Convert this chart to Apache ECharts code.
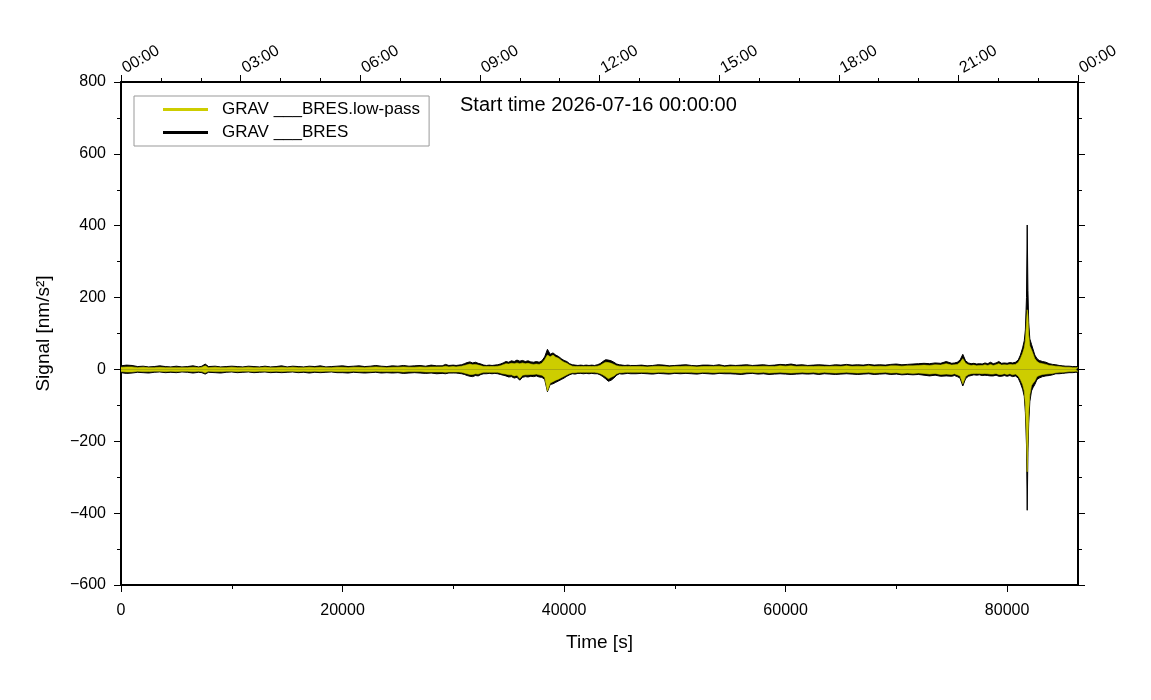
<!DOCTYPE html>
<html>
<head>
<meta charset="utf-8">
<title>GRAV BRES</title>
<script src="https://cdn.jsdelivr.net/npm/echarts@6/dist/echarts.min.js"></script>
<style>
  html, body { margin: 0; padding: 0; background: #fff; }
  #chart { width: 1151px; height: 700px; }
</style>
</head>
<body>
<div id="chart"></div>
<script>
// sample times in seconds since start, with the envelope of each trace
const times = [
  0, 500, 1000, 1500, 2000, 2500, 3000, 3500, 4000, 4500,
  5000, 5500, 6000, 6500, 7000, 7300, 7600, 7900, 8500, 9000,
  9500, 10000, 10500, 11000, 11500, 12000, 12500, 13000, 13500, 14000,
  14500, 15000, 15500, 16000, 16500, 17000, 17500, 18000, 18500, 19000,
  19500, 20000, 20500, 21000, 21500, 22000, 22500, 23000, 23500, 24000,
  24500, 25000, 25500, 26000, 26500, 27000, 27500, 28000, 28500, 29000,
  29300, 29600, 30000,
  30250, 30500, 30750, 31000, 31250, 31500, 31750, 32000,
  32250, 32500, 32750, 33000, 33250, 33500, 33750, 34000,
  34250, 34500, 34750, 35000, 35250, 35500, 35750, 36000,
  36250, 36500, 36750, 37000, 37250, 37500, 37750, 38000,
  38250, 38500, 38750, 39000, 39250, 39500, 39750, 40000,
  40250, 40500, 40750, 41000, 41250, 41500, 41750, 42000,
  42250, 42500, 42750, 43000, 43250, 43500, 43750, 44000,
  44250, 44500, 44750, 45000, 45250, 45500, 45750, 46000,
  46500, 47000, 47500, 48000, 48500, 49000, 49500, 50000, 50500, 51000,
  51500, 52000, 52500, 53000, 53500, 54000, 54500, 55000, 55500, 56000,
  56500, 57000, 57500, 58000, 58500, 59000, 59500, 60000, 60500, 61000,
  61500, 62000, 62500, 63000, 63500, 64000, 64500, 65000, 65500, 66000,
  66500, 67000, 67500, 68000, 68500, 69000, 69500, 70000, 70500, 71000,
  71500, 72000, 72500, 73000, 73500, 74000, 74500, 75000,
  75250, 75500, 75750, 76000, 76250, 76500, 76750, 77000,
  77250, 77500, 77750, 78000, 78250, 78500, 78750, 79000,
  79250, 79500, 79750, 80000, 80250, 80500, 80750, 81000,
  81200, 81400, 81550, 81650, 81750, 81815, 81880, 81950,
  82050, 82200, 82350, 82500, 82700, 82900, 83200, 83500,
  83800, 84100, 84400, 84700, 85000, 85300, 85600, 85900,
  86200, 86400
];

// raw trace, upper and lower envelope (nm/s^2)
const rawTop = [
  10, 12, 11, 8, 9, 7, 8, 10, 8, 7,
  9, 7, 8, 10, 7, 9, 15, 8, 9, 7,
  8, 9, 8, 7, 9, 8, 7, 9, 7, 8,
  10, 7, 9, 8, 7, 9, 8, 10, 7, 8,
  9, 10, 8, 9, 10, 8, 9, 11, 9, 8,
  10, 9, 11, 9, 10, 11, 9, 12, 10, 10,
  14, 11, 12,
  11, 12, 13, 16, 19, 21, 18, 20,
  17, 15, 12, 11, 12, 11, 12, 13,
  15, 18, 22, 20, 24, 22, 26, 23,
  25, 22, 24, 21, 20, 22, 20, 24,
  35, 56, 42, 46, 40, 36, 30, 25,
  22, 16, 13, 12, 11, 12, 11, 12,
  11, 12, 11, 13, 16, 22, 27, 26,
  24, 20, 15, 13, 12, 11, 12, 11,
  11, 12, 10, 11, 13, 12, 10, 11, 12, 13,
  11, 10, 12, 12, 11, 13, 10, 12, 11, 12,
  13, 11, 12, 13, 11, 12, 14, 13, 15, 12,
  13, 11, 12, 13, 12, 11, 13, 12, 14, 12,
  13, 12, 14, 12, 13, 12, 14, 15, 13, 14,
  15, 16, 17, 16, 18, 17, 22, 17,
  18, 20, 26, 42, 24, 18, 16, 17,
  15, 16, 15, 18, 16, 20, 16, 18,
  22, 17, 18, 17, 19, 18, 20, 26,
  40, 60, 80, 110, 200, 402, 220, 130,
  85, 70, 65, 40, 30, 25, 22, 20,
  16, 14, 13, 11, 10, 9, 9, 8,
  8, 8
];
const rawBottom = [
  -9, -11, -10, -8, -9, -10, -8, -7, -9, -8,
  -9, -7, -8, -10, -8, -9, -13, -8, -9, -10,
  -8, -7, -9, -8, -7, -9, -8, -7, -9, -8,
  -9, -8, -7, -9, -8, -10, -8, -9, -8, -7,
  -9, -9, -10, -8, -9, -10, -9, -8, -10, -9,
  -10, -9, -11, -10, -9, -10, -11, -10, -12, -11,
  -12, -10, -10,
  -10, -11, -12, -14, -17, -19, -20, -17,
  -18, -14, -12, -12, -11, -12, -11, -12,
  -14, -16, -18, -21, -20, -24, -22, -30,
  -22, -20, -21, -19, -20, -18, -21, -22,
  -28, -62, -42, -40, -36, -32, -28, -24,
  -19, -15, -12, -13, -11, -11, -12, -11,
  -12, -11, -12, -12, -15, -20, -26, -33,
  -30, -24, -16, -12, -13, -12, -11, -12,
  -12, -11, -12, -13, -11, -12, -13, -11, -12, -11,
  -12, -13, -11, -12, -13, -11, -12, -12, -13, -14,
  -12, -11, -13, -12, -14, -13, -12, -13, -14, -13,
  -12, -13, -12, -14, -12, -13, -14, -13, -12, -13,
  -14, -13, -12, -14, -13, -12, -14, -13, -15, -14,
  -15, -14, -16, -18, -16, -19, -18, -19,
  -17, -20, -24, -46, -26, -19, -17, -15,
  -16, -15, -17, -16, -17, -18, -18, -16,
  -19, -19, -17, -19, -17, -20, -18, -24,
  -38, -55, -75, -120, -210, -392, -230, -150,
  -90, -60, -50, -42, -28, -24, -20, -18,
  -17, -15, -12, -12, -11, -10, -9, -9,
  -8, -8
];

// low-pass trace, upper and lower envelope (nm/s^2)
const lpTop = [
  6, 7, 7, 5, 6, 5, 5, 6, 5, 5,
  5, 5, 5, 6, 5, 6, 10, 5, 6, 5,
  5, 6, 5, 5, 6, 5, 5, 6, 5, 5,
  6, 5, 6, 5, 5, 6, 5, 6, 5, 5,
  6, 6, 5, 6, 6, 5, 6, 7, 6, 5,
  6, 6, 7, 6, 6, 7, 6, 7, 7, 7,
  9, 7, 8,
  7, 8, 9, 11, 13, 15, 13, 14,
  12, 10, 8, 8, 8, 8, 8, 9,
  10, 13, 16, 15, 17, 16, 18, 16,
  18, 16, 17, 15, 14, 15, 14, 17,
  27, 40, 35, 40, 34, 31, 25, 20,
  17, 12, 9, 8, 8, 8, 8, 8,
  8, 8, 8, 9, 11, 16, 20, 19,
  17, 14, 10, 9, 8, 8, 8, 8,
  8, 8, 7, 8, 9, 8, 7, 8, 8, 9,
  8, 7, 8, 8, 8, 9, 7, 8, 8, 8,
  9, 8, 8, 9, 8, 8, 10, 9, 10, 8,
  9, 8, 8, 9, 8, 8, 9, 8, 10, 8,
  9, 8, 10, 8, 9, 8, 10, 10, 9, 10,
  10, 11, 12, 11, 13, 12, 16, 12,
  13, 14, 19, 30, 17, 13, 11, 12,
  10, 11, 11, 13, 11, 14, 11, 13,
  16, 12, 13, 12, 14, 13, 14, 19,
  30, 45, 60, 80, 130, 166, 150, 95,
  65, 55, 50, 30, 22, 18, 16, 14,
  11, 10, 9, 8, 7, 6, 6, 5,
  5, 5
];
const lpBottom = [
  -6, -7, -7, -5, -6, -6, -5, -5, -6, -5,
  -6, -5, -5, -6, -5, -6, -9, -5, -6, -6,
  -5, -5, -6, -5, -5, -6, -5, -5, -6, -5,
  -6, -5, -5, -6, -5, -6, -5, -6, -5, -5,
  -6, -6, -6, -5, -6, -6, -6, -5, -6, -6,
  -6, -6, -7, -6, -6, -6, -7, -7, -7, -7,
  -8, -7, -7,
  -7, -7, -8, -10, -12, -14, -14, -12,
  -13, -10, -8, -8, -8, -8, -8, -8,
  -10, -12, -13, -15, -15, -18, -16, -25,
  -16, -15, -15, -14, -14, -13, -15, -16,
  -22, -60, -38, -34, -30, -27, -23, -19,
  -15, -11, -9, -9, -8, -8, -8, -8,
  -8, -8, -8, -9, -11, -15, -20, -26,
  -22, -18, -12, -9, -9, -8, -8, -8,
  -8, -8, -8, -9, -8, -8, -9, -8, -8, -8,
  -8, -9, -8, -8, -9, -8, -8, -8, -9, -10,
  -8, -8, -9, -8, -10, -9, -8, -9, -10, -9,
  -8, -9, -8, -10, -8, -9, -10, -9, -8, -9,
  -10, -9, -8, -10, -9, -8, -10, -9, -11, -10,
  -11, -10, -11, -13, -11, -14, -13, -14,
  -12, -15, -18, -40, -20, -14, -12, -11,
  -11, -11, -12, -11, -12, -13, -13, -11,
  -14, -14, -12, -14, -12, -15, -13, -18,
  -28, -42, -60, -100, -180, -285, -200, -120,
  -70, -45, -38, -32, -20, -17, -14, -13,
  -12, -11, -9, -8, -8, -7, -6, -6,
  -5, -5
];

const bottomMajor = [0, 20000, 40000, 60000, 80000];
const bottomMinor = [10000, 30000, 50000, 70000];
const topLabels = ['00:00', '03:00', '06:00', '09:00', '12:00', '15:00', '18:00', '21:00', '00:00'];

const RAW_NAME = 'GRAV ___BRES';
const LP_NAME = 'GRAV ___BRES.low-pass';
const FONT = '"Liberation Sans", Arial, Helvetica, sans-serif';

function pairs(ys) {
    return times.map(function (t, i) { return [t, ys[i]]; });
}

// each trace is drawn as two areas filled towards zero: upper and lower envelope
function band(name, color, top, bottom, width, z) {
    return [top, bottom].map(function (ys) {
        return {
            name: name,
            type: 'line',
            xAxisIndex: 0,
            yAxisIndex: 0,
            data: pairs(ys),
            symbol: 'none',
            showSymbol: false,
            z: z,
            itemStyle: { color: color },
            lineStyle: { color: color, width: width },
            areaStyle: { color: color, opacity: 1 },
            emphasis: { disabled: true }
        };
    });
}

const black = '#000';
const frameLine = { show: true, onZero: false, lineStyle: { color: black, width: 2 } };
const majorTick = { show: true, inside: false, length: 7, lineStyle: { color: black, width: 1 } };
const minorTick = { show: true, length: 4, lineStyle: { color: black, width: 1 } };

var chart = echarts.init(document.getElementById('chart'));
var option = {
    animation: false,
    backgroundColor: '#fff',
    textStyle: { fontFamily: FONT, color: black },
    title: {
        text: 'Start time 2026-07-16 00:00:00',
        left: 460,
        top: 95,
        padding: 0,
        textStyle: { fontFamily: FONT, fontSize: 20, fontWeight: 'normal', color: black }
    },
    legend: {
        data: [LP_NAME, RAW_NAME],
        orient: 'vertical',
        left: 134,
        top: 96,
        padding: [5, 9, 5, 29],
        itemGap: 6,
        itemWidth: 45,
        itemHeight: 3,
        icon: 'rect',
        borderColor: '#999',
        borderWidth: 1,
        backgroundColor: '#fff',
        selectedMode: false,
        textStyle: { fontFamily: FONT, fontSize: 17, lineHeight: 17, color: black, padding: [0, 0, 0, 9] }
    },
    grid: [
        { left: 121, right: 73, top: 82, bottom: 115, outerBoundsMode: 'none' },
        { left: 121, right: 73, top: 82, bottom: 115, outerBoundsMode: 'none' }
    ],
    xAxis: [
        {
            type: 'value', gridIndex: 0, position: 'bottom', min: 0, max: 86400,
            axisLine: frameLine,
            axisTick: Object.assign({ customValues: bottomMajor }, majorTick),
            axisLabel: {
                customValues: bottomMajor, fontSize: 16, margin: 18, color: black, fontFamily: FONT,
                formatter: function (v) { return String(v); }
            },
            splitLine: { show: false },
            name: 'Time [s]', nameLocation: 'middle', nameGap: 48,
            nameTextStyle: { fontSize: 19, color: black, fontFamily: FONT }
        },
        {
            type: 'value', gridIndex: 0, position: 'top', min: 0, max: 86400, interval: 10800,
            axisLine: frameLine,
            axisTick: majorTick,
            minorTick: Object.assign({ splitNumber: 3 }, minorTick),
            axisLabel: {
                rotate: -30, fontSize: 16, margin: 11, padding: [0, 0, 0, 3], color: black, fontFamily: FONT,
                formatter: function (v, i) { return topLabels[i]; }
            },
            splitLine: { show: false }, minorSplitLine: { show: false }
        },
        {
            type: 'value', gridIndex: 1, position: 'bottom', min: 0, max: 86400,
            axisLine: { show: false, onZero: false },
            axisTick: Object.assign({ customValues: bottomMinor }, minorTick),
            axisLabel: { show: false },
            splitLine: { show: false }
        }
    ],
    yAxis: [
        {
            type: 'value', gridIndex: 0, position: 'left', min: -600, max: 800, interval: 200,
            axisLine: frameLine,
            axisTick: majorTick,
            minorTick: Object.assign({ splitNumber: 2 }, minorTick),
            axisLabel: {
                fontSize: 16, margin: 15, color: black, fontFamily: FONT,
                formatter: function (v) { return v < 0 ? '\u2212' + (-v) : String(v); }
            },
            splitLine: { show: false }, minorSplitLine: { show: false },
            name: 'Signal [nm/s\u00b2]', nameLocation: 'middle', nameGap: 68,
            nameTextStyle: { fontSize: 19, color: black, fontFamily: FONT }
        },
        {
            type: 'value', gridIndex: 0, position: 'right', min: -600, max: 800, interval: 200,
            axisLine: frameLine,
            axisTick: majorTick,
            minorTick: Object.assign({ splitNumber: 2 }, minorTick),
            axisLabel: { show: false },
            splitLine: { show: false }, minorSplitLine: { show: false }
        },
        {
            type: 'value', gridIndex: 1, min: -600, max: 800, show: false,
            splitLine: { show: false }
        }
    ],
    series: band(RAW_NAME, black, rawTop, rawBottom, 1, 2)
        .concat(band(LP_NAME, '#cdcd00', lpTop, lpBottom, 0.6, 3))
};
chart.setOption(option);
</script>
</body>
</html>
